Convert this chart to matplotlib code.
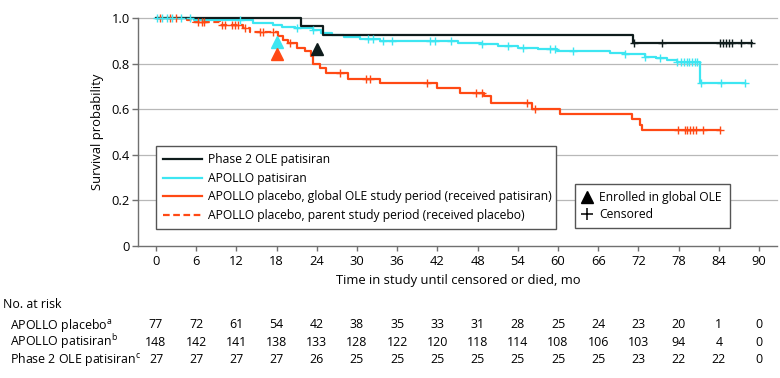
import numpy as np
import matplotlib
matplotlib.use("Agg")
import matplotlib.pyplot as plt
from matplotlib.lines import Line2D

plt.rcParams['font.family'] = ['Open Sans', 'DejaVu Sans']
plt.rcParams['mathtext.fontset'] = 'custom'
plt.rcParams['mathtext.rm'] = 'Open Sans'

# ---------------- data ----------------
ole_t = [0, 21.6, 24.9, 71.2]
ole_s = [1.0, 0.963, 0.926, 0.889]
ole_end = 88.9
ole_cens = [71.3, 75.5, 84.2, 84.6, 85.0, 85.5, 86.0, 87.3, 88.8]

apollo_pat_t = [0, 5.6, 14.5, 17.5, 18.8, 20.7, 23.5, 24.7, 26.2, 28.0, 30.4, 33.4,
                45.1, 48.6, 51.0, 54.0, 57.0, 59.8, 67.8, 70.0, 73.0, 74.7, 76.2, 77.7, 81.2]
apollo_pat_s = [1.0, 0.99, 0.977, 0.969, 0.962, 0.955, 0.947, 0.933, 0.925, 0.915, 0.908, 0.899,
                0.892, 0.885, 0.877, 0.870, 0.862, 0.855, 0.848, 0.840, 0.830, 0.823, 0.816, 0.807, 0.716]
apollo_pat_end = 87.9
apollo_pat_cens = [0.1, 0.9, 1.6, 2.4, 3.8, 5.1, 12.5, 21.0, 23.5, 31.6, 32.4, 33.9, 35.2,
                   40.9, 41.6, 44.1, 48.7, 52.5, 54.8, 58.8, 59.6, 62.3, 70.0, 73.0, 75.2,
                   77.8, 78.3, 78.8, 79.2, 79.6, 80.0, 80.4, 80.8, 81.4, 84.4, 87.9]

placebo_t = [0, 4.6, 5.5, 9.6, 13.0, 14.0, 18.2, 19.0, 19.7, 21.0, 22.2, 23.2, 23.5, 24.5,
             25.3, 28.7, 33.4, 41.9, 45.3, 48.9, 50.0, 56.1, 60.3, 71.0, 72.2, 72.6]
placebo_s = [1.0, 0.99, 0.982, 0.969, 0.955, 0.937, 0.921, 0.904, 0.889, 0.869, 0.854, 0.835,
             0.797, 0.779, 0.758, 0.733, 0.713, 0.694, 0.671, 0.660, 0.626, 0.601, 0.579,
             0.556, 0.531, 0.508]
placebo_end = 84.2
placebo_switch = 18.0
placebo_cens = [0.6, 2.1, 3.0, 6.3, 6.8, 7.1, 9.8, 10.3, 11.3, 11.8, 12.2, 13.3, 15.5, 16.0,
                17.5, 20.0, 27.5, 31.4, 31.9, 40.4, 47.8, 48.6, 55.3, 56.5, 77.9, 78.9,
                79.3, 79.7, 80.1, 80.6, 81.7, 84.2]

# enrollment in global OLE (time, survival)
enroll_pat = (18, 0.895)
enroll_pla = (18, 0.84)
enroll_ole = (24, 0.862)

risk_times = list(range(0, 91, 6))
risk_labels = ["APOLLO placebo$^{\\mathrm{a}}$", "APOLLO patisiran$^{\\mathrm{b}}$",
               "Phase 2 OLE patisiran$^{\\mathrm{c}}$"]
risk_placebo = [77, 72, 61, 54, 42, 38, 35, 33, 31, 28, 25, 24, 23, 20, 1, 0]
risk_patisiran = [148, 142, 141, 138, 133, 128, 122, 120, 118, 114, 108, 106, 103, 94, 4, 0]
risk_ole = [27, 27, 27, 27, 26, 25, 25, 25, 25, 25, 25, 25, 23, 22, 22, 0]

legend_labels = ["Phase 2 OLE patisiran", "APOLLO patisiran",
                 "APOLLO placebo, global OLE study period (received patisiran)",
                 "APOLLO placebo, parent study period (received placebo)"]

# ---------------- style ----------------
C_BLACK = '#0f1c1c'
C_CYAN = '#3de6f2'
C_ORANGE = '#ff4914'
GRID = '#b8b8b8'
SPINE = '#707070'
FS_TICK = 9.3
FS_LAB = 9.4
FS_LEG = 8.7
FS_TAB = 8.9

W, H = 780, 378
fig = plt.figure(figsize=(W / 100, H / 100), dpi=100)
ax_l, ax_r, ax_t, ax_b = 138, 777, 18, 246
ax = fig.add_axes([ax_l / W, 1 - ax_b / H, (ax_r - ax_l) / W, (ax_b - ax_t) / H])

px_per_mo = 6.7
x0_px = 156
ax.set_xlim((ax_l - x0_px) / px_per_mo, (ax_r - x0_px) / px_per_mo)
ax.set_ylim(0, 1.0)

for y in [0.2, 0.4, 0.6, 0.8, 1.0]:
    ax.axhline(y, color=GRID, lw=0.9, zorder=0, clip_on=False)

for sp in ['top', 'right']:
    ax.spines[sp].set_visible(False)
for sp in ['left', 'bottom']:
    ax.spines[sp].set_color(SPINE)
    ax.spines[sp].set_linewidth(1.0)

ax.set_xticks(risk_times)
ax.set_yticks([0, 0.2, 0.4, 0.6, 0.8, 1.0])
ax.set_yticklabels(['0', '0.2', '0.4', '0.6', '0.8', '1.0'])
ax.tick_params(axis='both', colors=SPINE, labelcolor='black', labelsize=FS_TICK, width=1.0)
ax.tick_params(axis='x', length=3.5, pad=3)
ax.tick_params(axis='y', length=4, pad=2)


def surv_at(t, s, c):
    i = np.searchsorted(np.asarray(t), c, side='right') - 1
    return np.asarray(s)[i]


def draw_curve(t, s, end, color, ls='-', t_from=None, t_to=None):
    t = np.asarray(t, float)
    s = np.asarray(s, float)
    lo = t[0] if t_from is None else t_from
    hi = end if t_to is None else t_to
    mask = (t > lo) & (t < hi)
    xs = np.concatenate([[lo], t[mask], [hi]])
    ys = np.concatenate([[surv_at(t, s, lo)], s[mask], [surv_at(t, s, hi)]])
    ax.step(xs, ys, where='post', color=color, lw=1.6, ls=ls, clip_on=False,
            dashes=(3, 1.6) if ls == '--' else (None, None), zorder=3)


def draw_cens(t, s, cens, color):
    ys = [surv_at(t, s, c) for c in cens]
    ax.plot(cens, ys, ls='none', marker='+', ms=6, mew=1.0, color=color, clip_on=False, zorder=4)


draw_curve(placebo_t, placebo_s, placebo_end, C_ORANGE, ls='--', t_to=placebo_switch)
draw_curve(placebo_t, placebo_s, placebo_end, C_ORANGE, t_from=placebo_switch)
draw_cens(placebo_t, placebo_s, placebo_cens, C_ORANGE)

draw_curve(apollo_pat_t, apollo_pat_s, apollo_pat_end, C_CYAN)
draw_cens(apollo_pat_t, apollo_pat_s, apollo_pat_cens, C_CYAN)

draw_curve(ole_t, ole_s, ole_end, C_BLACK)
draw_cens(ole_t, ole_s, ole_cens, C_BLACK)

ax.plot(*enroll_pat, marker='^', ms=8.5, color=C_CYAN, ls='none', zorder=5)
ax.plot(*enroll_pla, marker='^', ms=8.5, color=C_ORANGE, ls='none', zorder=5)
ax.plot(*enroll_ole, marker='^', ms=8.5, color=C_BLACK, ls='none', zorder=5)

ax.set_ylabel("Survival probability", fontsize=FS_LAB)
ax.yaxis.set_label_coords((103.5 - ax_l) / (ax_r - ax_l), 0.5)
ax.set_xlabel("Time in study until censored or died, mo", fontsize=FS_LAB)
ax.xaxis.set_label_coords((458 - ax_l) / (ax_r - ax_l), (ax_b - 274) / (ax_b - ax_t))

# legends
handles = [Line2D([], [], color=C_BLACK, lw=1.6),
           Line2D([], [], color=C_CYAN, lw=1.6),
           Line2D([], [], color=C_ORANGE, lw=1.6),
           Line2D([], [], color=C_ORANGE, lw=1.6, ls='--', dashes=(3, 1.6))]
fx = lambda px: (px - ax_l) / (ax_r - ax_l)
fy = lambda py: (ax_b - py) / (ax_b - ax_t)
leg1 = ax.legend(handles, legend_labels, loc='upper left',
                 bbox_to_anchor=(fx(156), fy(227), fx(556) - fx(156), fy(146) - fy(227)),
                 mode='expand', fontsize=FS_LEG, frameon=True, fancybox=False, framealpha=1,
                 edgecolor='#555555', handlelength=3.2, handletextpad=0.5, labelspacing=0.45,
                 borderpad=0.62, borderaxespad=0)
leg1.get_frame().set_linewidth(1.0)
ax.add_artist(leg1)

h2 = [Line2D([], [], color='black', marker='^', ls='none', ms=8),
      Line2D([], [], color='black', marker='+', ls='none', ms=9, mew=1.1)]
leg2 = ax.legend(h2, ["Enrolled in global OLE", "Censored"], loc='upper left',
                 bbox_to_anchor=(fx(575), fy(227), fx(730) - fx(575), fy(184) - fy(227)),
                 mode='expand', fontsize=FS_LEG, frameon=True, fancybox=False, framealpha=1,
                 edgecolor='#555555', handlelength=0.9, handletextpad=0.5, labelspacing=0.32,
                 borderpad=0.58, borderaxespad=0)
leg2.get_frame().set_linewidth(1.0)

# number at risk table
fig.text(3 / W, 1 - 305 / H, "No. at risk", fontsize=FS_TAB, va='center', ha='left')
rows_y = [325, 342, 359.5]
for lab, vals, yy in zip(risk_labels, [risk_placebo, risk_patisiran, risk_ole], rows_y):
    fig.text(10 / W, 1 - yy / H, lab, fontsize=FS_TAB, va='center', ha='left')
    for tt, v in zip(risk_times, vals):
        xpx = x0_px + tt * px_per_mo
        fig.text(xpx / W, 1 - yy / H, str(v), fontsize=FS_TAB, va='center', ha='center')

fig.savefig("out.png", dpi=100)
